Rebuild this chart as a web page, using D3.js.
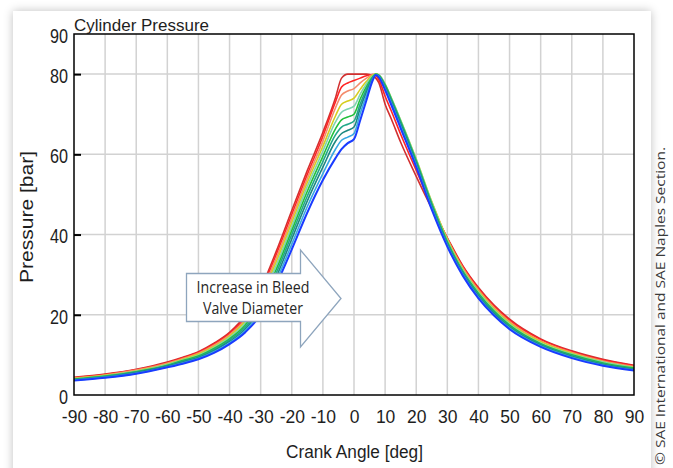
<!DOCTYPE html>
<html><head><meta charset="utf-8">
<script src="https://cdn.jsdelivr.net/npm/d3@7"></script>
<style>
html,body{margin:0;padding:0;background:#fff;width:673px;height:468px;overflow:hidden;}
#card{position:absolute;left:13px;top:11px;width:638px;height:470px;background:#fff;box-shadow:0 0 9px rgba(0,0,0,0.25);}
svg{position:absolute;left:0;top:0;}
</style></head><body><div id="card"></div><svg id="chart" width="673" height="468"></svg>
<script>
// ---- data ----
const crankAngle = [-90,-80,-70,-60,-55,-50,-45,-40,-35,-30,-25,-20,-15,-10,-6,-4,-2,0,2,4,6,7,8,10,12,15,20,25,30,35,40,45,50,60,70,80,90];
const bleed1  = [4.4,5.2,6.4,8.2,9.4,10.8,12.9,15.6,19.8,26.5,35.8,46.0,56.0,65.5,74.0,79.0,80.0,80.0,80.0,80.0,79.6,79.0,77.8,72.5,68.8,63.0,54.5,46.5,39.2,32.2,26.8,22.4,18.9,14.0,11.0,8.9,7.4];
const bleed2  = [4.3,5.1,6.3,8.0,9.25,10.6,12.65,15.3,19.3,25.9,35.0,45.0,55.0,64.5,73.0,76.8,77.8,78.4,79.0,79.6,79.9,79.6,78.6,74.5,70.8,65.0,56.0,47.2,39.0,32.0,26.5,22.1,18.6,13.8,10.8,8.7,7.3];
const bleed3  = [4.2,5.0,6.2,7.9,9.1,10.4,12.4,15.0,18.8,25.2,34.1,44.0,54.0,63.3,71.5,74.8,75.8,76.4,77.8,79.0,79.9,80.0,79.4,76.5,73.0,67.3,57.8,48.0,38.9,31.7,26.2,21.8,18.3,13.5,10.6,8.5,7.1];
const bleed4  = [4.1,4.9,6.0,7.7,8.9,10.2,12.1,14.7,18.4,24.5,33.2,43.0,53.0,62.0,69.5,72.5,73.3,74.0,76.2,78.2,79.7,80.0,79.8,77.5,74.0,68.5,58.8,48.2,38.8,31.4,25.9,21.5,18.0,13.3,10.4,8.3,6.9];
const bleed5  = [4.0,4.8,5.9,7.6,8.75,9.9,11.85,14.35,17.9,23.8,32.3,42.0,52.0,60.8,68.0,70.5,71.3,72.0,75.0,77.6,79.5,80.0,79.8,77.5,74.0,68.5,58.7,48.0,38.5,31.1,25.6,21.2,17.7,13.0,10.2,8.2,6.8];
const bleed6  = [3.95,4.7,5.8,7.4,8.6,9.7,11.6,14.0,17.4,23.1,31.3,41.0,50.8,59.5,66.3,68.6,69.3,70.0,73.8,76.9,79.3,80.0,79.7,77.3,73.8,68.2,58.4,47.7,38.2,30.8,25.3,20.9,17.4,12.8,10.0,8.0,6.7];
const bleed7  = [3.85,4.6,5.7,7.3,8.4,9.5,11.3,13.7,16.9,22.3,30.4,40.0,49.6,58.2,64.8,66.8,67.5,68.3,72.6,76.2,79.1,79.9,79.6,77.0,73.5,67.9,58.1,47.4,37.9,30.6,25.0,20.6,17.1,12.6,9.8,7.8,6.5];
const bleed8  = [3.8,4.5,5.6,7.2,8.25,9.3,11.05,13.35,16.4,21.6,29.4,38.9,48.4,56.8,63.2,65.2,66.0,66.8,71.5,75.5,78.9,79.8,79.5,76.8,73.2,67.5,57.7,47.0,37.6,30.3,24.7,20.3,16.9,12.4,9.6,7.6,6.4];
const bleed9  = [3.7,4.4,5.4,7.0,8.0,9.1,10.8,13.0,16.0,20.8,28.5,37.6,47.0,55.2,61.2,63.5,64.3,65.2,70.2,74.6,78.7,79.8,79.4,76.4,72.8,67.0,57.3,46.6,37.3,30.0,24.4,20.0,16.7,12.2,9.4,7.4,6.2];
const bleed10 = [3.6,4.3,5.3,6.9,7.8,8.9,10.5,12.7,15.6,20.0,27.5,36.3,45.5,53.6,59.0,61.3,62.8,63.8,68.5,73.5,78.4,79.8,79.2,76.0,72.3,66.5,56.8,46.2,37.0,29.7,24.1,19.8,16.4,12.0,9.2,7.3,6.1];
const xTickValues = [-90,-80,-70,-60,-50,-40,-30,-20,-10,0,10,20,30,40,50,60,70,80,90];
const yTickValues = [0,20,40,60,80,90];
const seriesColors = ["#d23030","#ff2424","#f48c6c","#d6cd1e","#7ed4b0","#22c03c","#20a888","#1d8880","#38a8e2","#1a3cff"];

// ---- chart ----
const svg = d3.select("#chart");
const x = d3.scaleLinear().domain([-90,90]).range([74,634]);
const y = d3.scaleLinear().domain([0,90]).range([395,34]);
const FONT = "'Liberation Sans', Arial, sans-serif";

// gridlines
svg.append("g").selectAll("line").data(xTickValues.filter(d=>d>-90&&d<90)).join("line")
  .attr("x1",d=>x(d)).attr("x2",d=>x(d)).attr("y1",y(0)).attr("y2",y(90))
  .attr("stroke","#d2d2d2").attr("stroke-width",1.5);
svg.append("g").selectAll("line").data(yTickValues.filter(d=>d>0&&d<90)).join("line")
  .attr("x1",x(-90)).attr("x2",x(90)).attr("y1",d=>y(d)).attr("y2",d=>y(d))
  .attr("stroke","#d2d2d2").attr("stroke-width",1.5);

// curves
const allSeries = [bleed1,bleed2,bleed3,bleed4,bleed5,bleed6,bleed7,bleed8,bleed9,bleed10];
const line = d3.line().x((d,i)=>x(crankAngle[i])).y(d=>y(d)).curve(d3.curveMonotoneX);
svg.append("g").selectAll("path").data(allSeries).join("path")
  .attr("d",d=>line(d)).attr("fill","none")
  .attr("stroke",(d,i)=>seriesColors[i])
  .attr("stroke-width",(d,i)=>i===9?2:1.6)
  .attr("stroke-linejoin","round");

// frame
svg.append("rect").attr("x",x(-90)).attr("y",y(90)).attr("width",x(90)-x(-90)).attr("height",y(0)-y(90))
  .attr("fill","none").attr("stroke","#000").attr("stroke-width",1.5);

// x axis
const gx = svg.append("g").attr("transform",`translate(0,${y(0)})`)
  .call(d3.axisBottom(x).tickValues(xTickValues).tickSize(0).tickPadding(15.6).tickFormat(d=>String(d)));
gx.select(".domain").remove();
gx.selectAll("text").attr("font-family",FONT).attr("font-size","17.5px").attr("fill","#1e1e1e");

// y axis
const gy = svg.append("g").attr("transform",`translate(${x(-90)},0)`)
  .call(d3.axisLeft(y).tickValues(yTickValues).tickSizeInner(-7).tickSizeOuter(0).tickPadding(6).tickFormat(d=>String(d)));
gy.select(".domain").remove();
gy.selectAll("line").attr("stroke","#000").attr("stroke-width",2)
  .attr("opacity",d=>(d===0||d===90)?0:1);
gy.selectAll("text").attr("font-family",FONT).attr("font-size","20px").attr("fill","#1e1e1e")
  .attr("dy","0.42em")
  .attr("textLength",d=>String(d).length*9.0).attr("lengthAdjust","spacingAndGlyphs");

// titles
svg.append("text").attr("x",74).attr("y",31).attr("font-family",FONT).attr("font-size","17px")
  .attr("fill","#1e1e1e").attr("textLength",135).attr("lengthAdjust","spacingAndGlyphs").text("Cylinder Pressure");
svg.append("text").attr("x",354.5).attr("y",458).attr("text-anchor","middle").attr("font-family",FONT)
  .attr("font-size","17.5px").attr("fill","#1e1e1e").attr("textLength",137).attr("lengthAdjust","spacingAndGlyphs")
  .text("Crank Angle [deg]");
svg.append("text").attr("transform","translate(33,217) rotate(-90)").attr("text-anchor","middle")
  .attr("font-family",FONT).attr("font-size","18.5px").attr("fill","#1e1e1e")
  .attr("textLength",132).attr("lengthAdjust","spacingAndGlyphs").text("Pressure [bar]");

// arrow annotation
const arrowPts = [[186.5,273.5],[300.5,273.5],[300.5,250],[341,298.5],[300.5,347],[300.5,321.5],[186.5,321.5]];
svg.append("path").attr("d",d3.line()(arrowPts)+"Z").attr("fill","#fff")
  .attr("stroke","#8ea5bd").attr("stroke-width",1.3);
const AF = "'Open Sans','Noto Sans',sans-serif";
svg.append("text").attr("x",253).attr("y",292.5).attr("text-anchor","middle").attr("font-family",AF)
  .attr("font-size","16px").attr("fill","#262626").attr("textLength",113).attr("lengthAdjust","spacingAndGlyphs")
  .text("Increase in Bleed");
svg.append("text").attr("x",253).attr("y",314).attr("text-anchor","middle").attr("font-family",AF)
  .attr("font-size","16px").attr("fill","#262626").attr("textLength",100).attr("lengthAdjust","spacingAndGlyphs")
  .text("Valve Diameter");

// copyright
svg.append("text").attr("transform","translate(664.5,465) rotate(-90)").attr("font-family",AF)
  .attr("font-size","13.3px").attr("fill","#3a3a3a").attr("textLength",318).attr("lengthAdjust","spacingAndGlyphs")
  .text("© SAE International and SAE Naples Section.");
</script></body></html>
